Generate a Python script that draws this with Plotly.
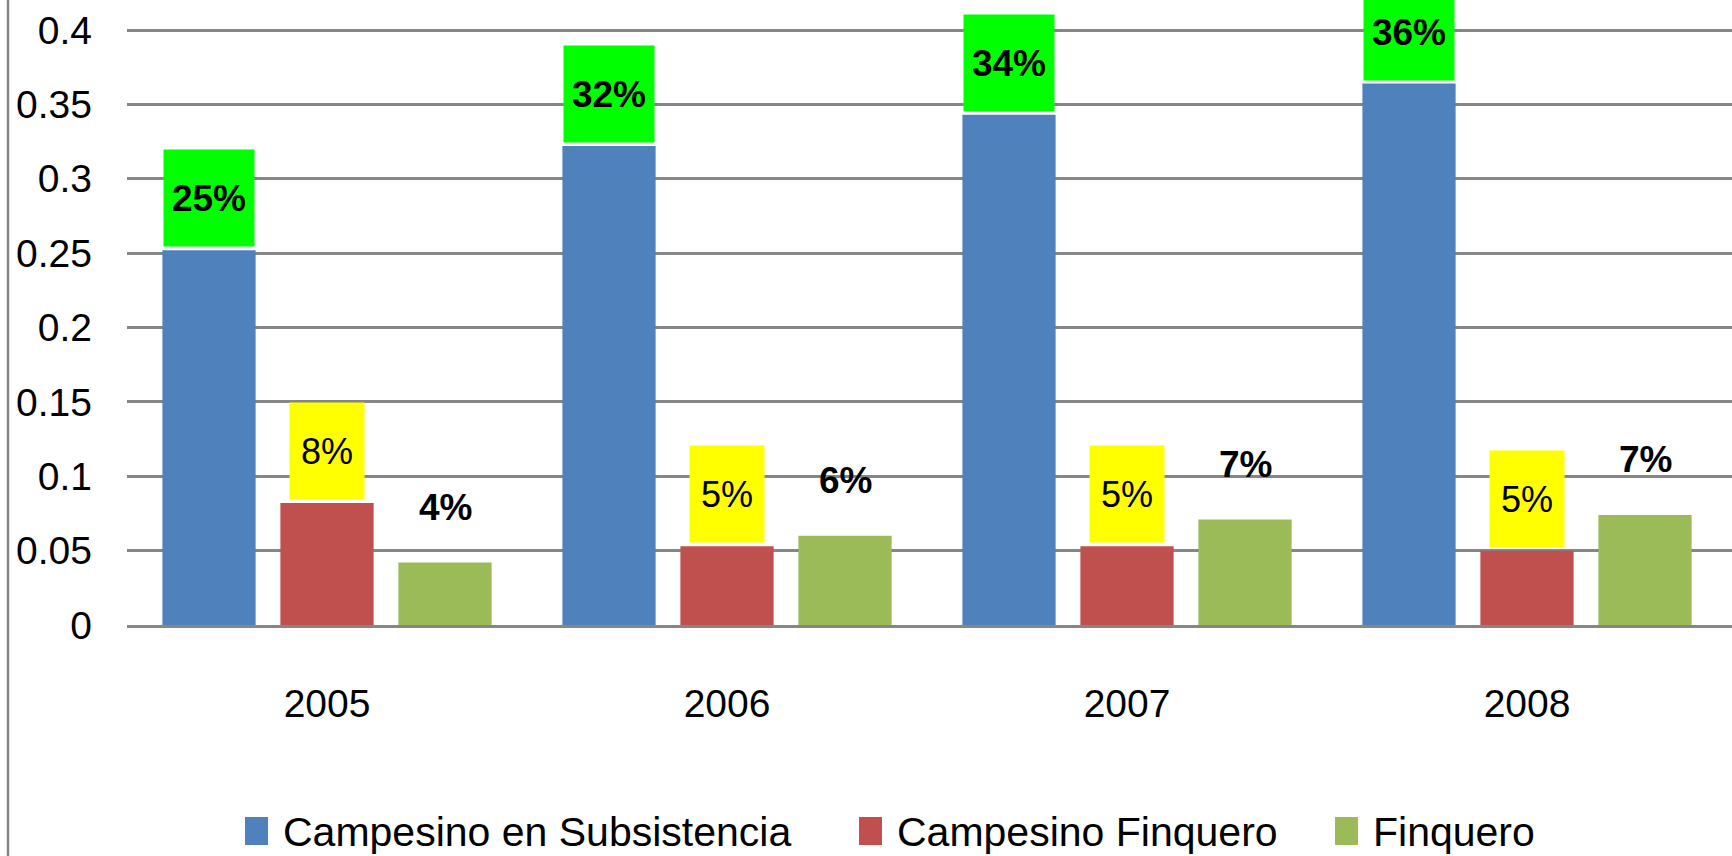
import plotly.graph_objects as go

years = ["2005", "2006", "2007", "2008"]
series_names = ["Campesino en Subsistencia", "Campesino Finquero", "Finquero"]
subsistencia = [0.252, 0.322, 0.343, 0.364]
campesino_finquero = [0.082, 0.053, 0.053, 0.050]
finquero = [0.042, 0.060, 0.071, 0.074]
labels_subsistencia = ["25%", "32%", "34%", "36%"]
labels_campesino_finquero = ["8%", "5%", "5%", "5%"]
labels_finquero = ["4%", "6%", "7%", "7%"]
y_ticks = [0, 0.05, 0.1, 0.15, 0.2, 0.25, 0.3, 0.35, 0.4]
y_tick_text = ["0", "0.05", "0.1", "0.15", "0.2", "0.25", "0.3", "0.35", "0.4"]

colors = ["#4F81BD", "#C0504D", "#9BBB59"]
FONT = "Liberation Sans, Arial, sans-serif"
W, H = 1732, 856
L, R, T, B = 127, 0, 0, 856 - 625
PW, PH = W - L - R, H - T - B
BARGAP = 0.115
BARGROUPGAP = 0.21
Y_TOP = 0.4 + 30 / 1487.5

def px_x(px):  # page pixel -> paper
    return (px - L) / PW

def px_y(py):
    return (H - B - py) / PH

xs = list(range(len(years)))
all_series = [subsistencia, campesino_finquero, finquero]

fig = go.Figure()
for name, vals, col in zip(series_names, all_series, colors):
    fig.add_trace(go.Bar(x=xs, y=vals, name=name, marker=dict(color=col, line=dict(width=0)),
                         showlegend=False, hoverinfo="y"))

slot = (1 - BARGAP) / 3
annotations = []
for i in xs:
    annotations.append(dict(x=i - slot, y=subsistencia[i], xref="x", yref="y",
                            text="<b>" + labels_subsistencia[i] + "</b>", showarrow=False,
                            yanchor="bottom", yshift=3, width=90, height=96,
                            bgcolor="#00FF00", borderpad=0,
                            font=dict(family=FONT, size=37, color="black")))
    annotations.append(dict(x=i, y=campesino_finquero[i], xref="x", yref="y",
                            text=labels_campesino_finquero[i], showarrow=False,
                            yanchor="bottom", yshift=3, width=74, height=96,
                            bgcolor="#FFFF00", borderpad=0,
                            font=dict(family=FONT, size=36, color="black")))
    annotations.append(dict(x=i + slot, y=finquero[i], xref="x", yref="y",
                            text="<b>" + labels_finquero[i] + "</b>", showarrow=False,
                            yanchor="middle", yshift=55,
                            font=dict(family=FONT, size=37, color="black")))

# custom legend (large square keys like the reference)
legend_sq_x = [245, 859, 1335]
shapes = []
for k, (name, col) in enumerate(zip(series_names, colors)):
    x0 = legend_sq_x[k]
    shapes.append(dict(type="rect", xref="paper", yref="paper",
                       x0=px_x(x0), x1=px_x(x0 + 23), y0=px_y(845), y1=px_y(817),
                       fillcolor=col, line=dict(width=0)))
    annotations.append(dict(x=px_x(x0 + 36), y=px_y(832), xref="paper", yref="paper",
                            text=name, showarrow=False, xanchor="left", yanchor="middle",
                            font=dict(family=FONT, size=41, color="black")))

# left border line of the chart area
shapes.append(dict(type="line", xref="paper", yref="paper",
                   x0=px_x(8), x1=px_x(8), y0=px_y(H), y1=px_y(0),
                   line=dict(color="#868686", width=2.5)))

fig.update_layout(
    width=W, height=H,
    margin=dict(l=L, r=R, t=T, b=B, pad=0),
    paper_bgcolor="white", plot_bgcolor="white",
    barmode="group", bargap=BARGAP, bargroupgap=BARGROUPGAP,
    font=dict(family=FONT, size=39, color="black"),
    showlegend=False,
    annotations=annotations,
    shapes=shapes,
    xaxis=dict(range=[-0.5, -0.5 + PW / 400.0], tickvals=xs, ticktext=years,
               showgrid=False, zeroline=False, showline=True, linecolor="#868686", linewidth=3,
               ticks="", ticklabelstandoff=42, tickfont=dict(family=FONT, size=39, color="black")),
    yaxis=dict(range=[0, Y_TOP], tickvals=y_ticks, ticktext=y_tick_text,
               showgrid=True, gridcolor="#868686", gridwidth=3, zeroline=False,
               ticks="", ticklabelstandoff=34, tickfont=dict(family=FONT, size=39, color="black")),
)

fig.write_html("out.html", config={"displayModeBar": False},
               post_script="document.body.style.margin='0';document.body.style.overflow='hidden';")
